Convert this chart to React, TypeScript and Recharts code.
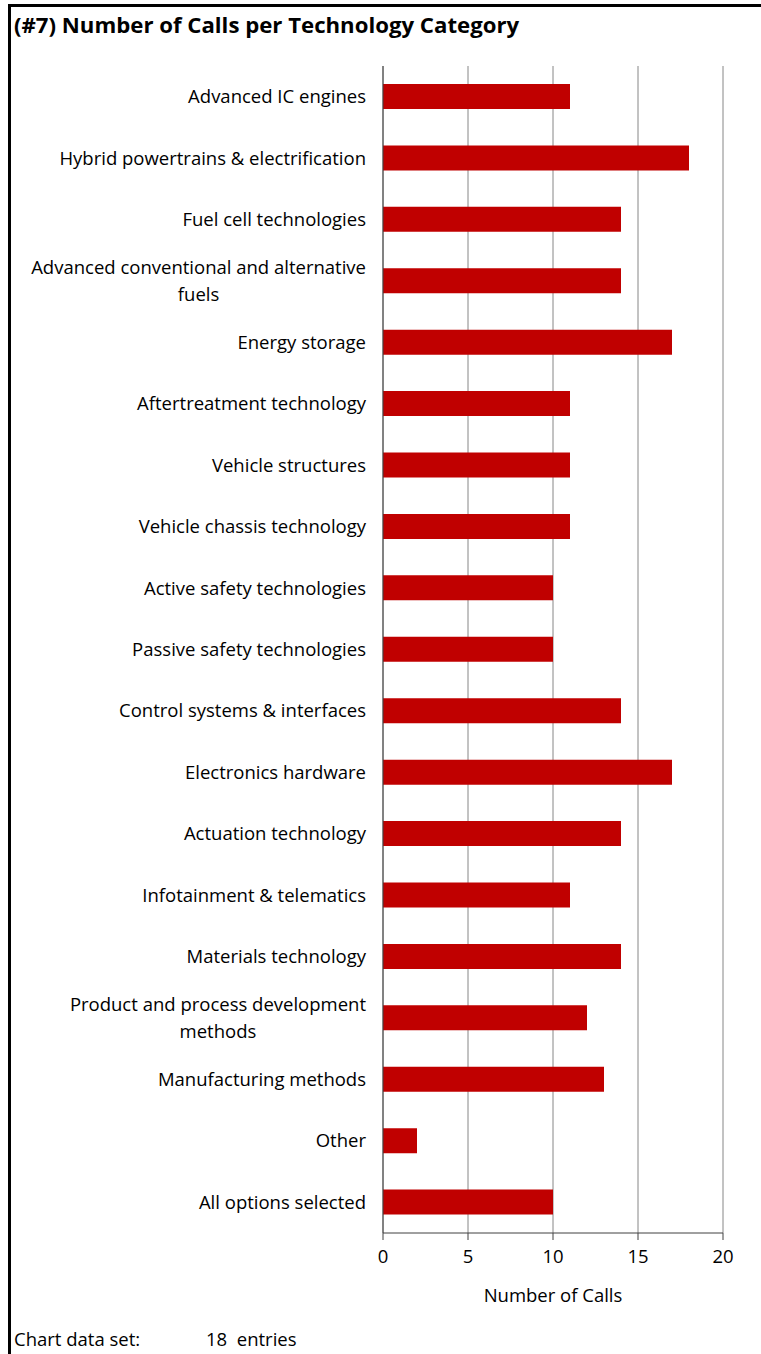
import { Bar, BarChart, CartesianGrid, XAxis, YAxis } from 'recharts';

const categories = [
  'Advanced IC engines',
  'Hybrid powertrains & electrification',
  'Fuel cell technologies',
  'Advanced conventional and alternative fuels',
  'Energy storage',
  'Aftertreatment technology',
  'Vehicle structures',
  'Vehicle chassis technology',
  'Active safety technologies',
  'Passive safety technologies',
  'Control systems & interfaces',
  'Electronics hardware',
  'Actuation technology',
  'Infotainment & telematics',
  'Materials technology',
  'Product and process development methods',
  'Manufacturing methods',
  'Other',
  'All options selected',
];
const calls = [11, 18, 14, 14, 17, 11, 11, 11, 10, 10, 14, 17, 14, 11, 14, 12, 13, 2, 10];
const xTicks = [0, 5, 10, 15, 20];
const entryCount = 18;

const FONT = '"Open Sans", Lato, sans-serif';
const FS = 18.5;
const data = categories.map((name, i) => ({ name, calls: calls[i] }));

let ctx: CanvasRenderingContext2D | null = null;
function measure(text: string): number {
  if (!ctx) ctx = document.createElement('canvas').getContext('2d');
  if (!ctx) return text.length * 9;
  ctx.font = `${FS}px ${FONT}`;
  return ctx.measureText(text).width;
}

function wrap(text: string, maxWidth: number): string[] {
  const words = text.split(' ');
  const lines: string[] = [];
  let cur = '';
  for (const w of words) {
    const next = cur ? `${cur} ${w}` : w;
    if (cur && measure(next) > maxWidth) {
      lines.push(cur);
      cur = w;
    } else {
      cur = next;
    }
  }
  if (cur) lines.push(cur);
  return lines;
}

function CategoryTick(props: any) {
  const { x, y, payload } = props;
  const lines = wrap(String(payload.value), 350);
  const widest = Math.max(...lines.map(measure));
  const cx = x - 15 - widest / 2;
  const lh = 27;
  const y0 = y - ((lines.length - 1) * lh) / 2;
  return (
    <text textAnchor="middle" fontSize={FS} fontFamily={FONT} fill="#000">
      {lines.map((l, i) => (
        <tspan key={i} x={cx} y={y0 + i * lh} dy="0.35em">
          {l}
        </tspan>
      ))}
    </text>
  );
}

export default function App() {
  return (
    <div style={{ position: 'absolute', left: 0, top: 0, width: 761, height: 1354, overflow: 'hidden', background: '#fff', fontFamily: FONT }}>
      <div
        style={{
          position: 'absolute',
          left: 8,
          top: 4,
          right: 0,
          bottom: 0,
          borderTop: '3px solid #000',
          borderLeft: '3px solid #000',
        }}
      />
      <div style={{ position: 'absolute', left: 14, top: 9, fontSize: 22.2, fontWeight: 700, color: '#000', whiteSpace: 'nowrap' }}>
        (#7) Number of Calls per Technology Category
      </div>
      <div style={{ position: 'absolute', left: 0, top: 0 }}>
        <BarChart
          width={761}
          height={1320}
          data={data}
          layout="vertical"
          margin={{ top: 66, right: 38, bottom: 17, left: 0 }}
          barSize={25}
        >
          <CartesianGrid horizontal={false} stroke="#868686" />
          <XAxis
            type="number"
            domain={[0, 20]}
            ticks={xTicks}
            height={70}
            tickSize={7}
            tickMargin={10}
            stroke="#404040"
            tick={{ fontSize: FS, fill: '#000', fontFamily: FONT }}
            label={{ value: 'Number of Calls', position: 'insideBottom', offset: 1, fontSize: FS, fill: '#000', fontFamily: FONT }}
          />
          <YAxis
            type="category"
            dataKey="name"
            width={383}
            tickLine={false}
            tickSize={0}
            stroke="#404040"
            interval={0}
            tick={<CategoryTick />}
          />
          <Bar dataKey="calls" fill="#C00000" isAnimationActive={false} />
        </BarChart>
      </div>
      <div style={{ position: 'absolute', left: 14, top: 1326, fontSize: FS, color: '#000' }}>Chart data set:</div>
      <div style={{ position: 'absolute', left: 206, top: 1326, fontSize: FS, color: '#000' }}>
        {entryCount}&nbsp; entries
      </div>
    </div>
  );
}
